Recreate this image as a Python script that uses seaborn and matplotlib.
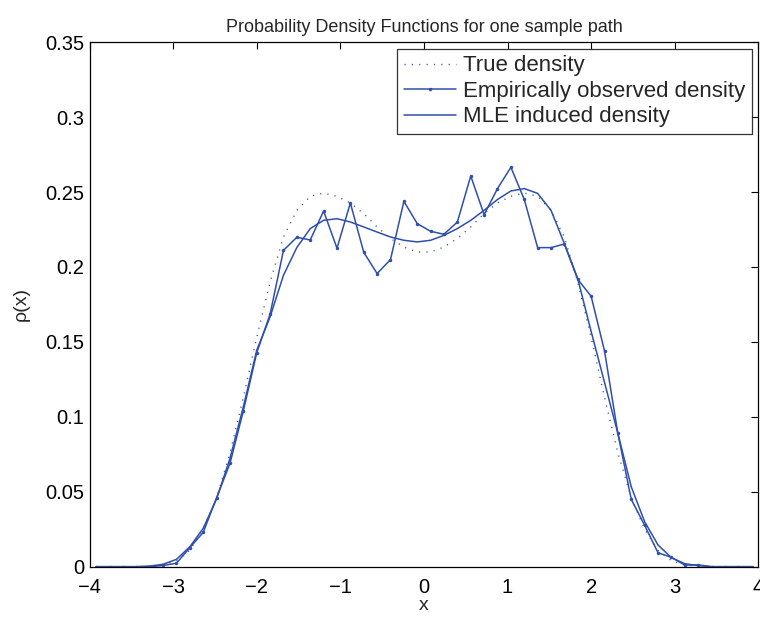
import numpy as np
import pandas as pd
import matplotlib
matplotlib.use("Agg")
import matplotlib.pyplot as plt
import seaborn as sns

# bin centers
x_vals = [-3.92, -3.76, -3.60, -3.44, -3.28, -3.12, -2.96, -2.80, -2.64, -2.48,
          -2.32, -2.16, -2.00, -1.84, -1.68, -1.52, -1.36, -1.20, -1.04, -0.88,
          -0.72, -0.56, -0.40, -0.24, -0.08, 0.08, 0.24, 0.40, 0.56, 0.72,
          0.88, 1.04, 1.20, 1.36, 1.52, 1.68, 1.84, 2.00, 2.16, 2.32,
          2.48, 2.64, 2.80, 2.96, 3.12, 3.28, 3.44, 3.60, 3.76, 3.92]

true_density = [0, 0, 0, 0, 0.0003, 0.0012, 0.004, 0.011, 0.025, 0.046,
                0.076, 0.113, 0.153, 0.190, 0.220, 0.2378, 0.2471, 0.2493, 0.2471, 0.2427,
                0.2356, 0.2267, 0.219, 0.2133, 0.2100, 0.2100, 0.2133, 0.219, 0.2267, 0.2356,
                0.2427, 0.2471, 0.2493, 0.2471, 0.2378, 0.220, 0.190, 0.153, 0.113, 0.076,
                0.046, 0.025, 0.011, 0.004, 0.0012, 0.0003, 0, 0, 0, 0]

empirical = [0, 0, 0, 0, 0, 0.0008, 0.0023, 0.0127, 0.0229, 0.046,
             0.0689, 0.104, 0.1427, 0.1685, 0.2111, 0.2198, 0.218, 0.2373, 0.2125, 0.2427,
             0.2098, 0.1956, 0.2049, 0.2438, 0.2289, 0.2238, 0.2218, 0.230, 0.2607, 0.2349,
             0.2523, 0.2665, 0.2451, 0.2129, 0.2129, 0.2153, 0.1917, 0.1805, 0.144, 0.0889,
             0.0449, 0.0276, 0.0093, 0.0062, 0.0011, 0.0012, 0, 0, 0, 0]

mle_density = [0, 0, 0, 0, 0.0004, 0.0016, 0.0049, 0.0133, 0.0256, 0.0453,
               0.0722, 0.1067, 0.1444, 0.1667, 0.1945, 0.213, 0.2256, 0.2311, 0.2322, 0.230,
               0.2267, 0.2233, 0.220, 0.2178, 0.2167, 0.2178, 0.2211, 0.2256, 0.2311, 0.2378,
               0.245, 0.2507, 0.2523, 0.2491, 0.2378, 0.2156, 0.1922, 0.157, 0.123, 0.0889,
               0.0533, 0.030, 0.0145, 0.006, 0.002, 0.0007, 0, 0, 0, 0]

labels = ["True density", "Empirically observed density", "MLE induced density"]
x_ticklabels = ["\u22124", "\u22123", "\u22122", "\u22121", "0", "1", "2", "3", "4"]
y_ticklabels = ["0", "0.05", "0.1", "0.15", "0.2", "0.25", "0.3", "0.35"]

sns.set_theme(style="white")
plt.rcParams['font.family'] = ['Liberation Sans', 'DejaVu Sans']

df = pd.DataFrame({"x": x_vals, "true": true_density, "emp": empirical, "mle": mle_density})

blue = "#2f4fae"
fig = plt.figure(figsize=(7.6, 6.2), dpi=100)
ax = fig.add_axes([0.1178, 0.086, 0.88, 0.846])

sns.lineplot(data=df, x="x", y="true", ax=ax, color=blue, linestyle=(0, (0.8, 4.5)),
             linewidth=1.0, label=labels[0])
sns.lineplot(data=df, x="x", y="emp", ax=ax, color=blue, linewidth=1.1,
             marker="o", markersize=2.5, markeredgewidth=0, label=labels[1])
sns.lineplot(data=df, x="x", y="mle", ax=ax, color=blue, linewidth=1.1,
             label=labels[2])

ax.set_xlim(-4, 4)
ax.set_ylim(0, 0.35)
ax.set_xticks(np.arange(-4, 4.01, 1))
ax.set_yticks(np.arange(0, 0.351, 0.05))
ax.set_xticklabels(x_ticklabels)
ax.set_yticklabels(y_ticklabels)
ax.tick_params(direction="in", top=True, right=True, length=5, width=0.8,
               labelsize=14.5, colors="black")
ax.tick_params(axis="x", pad=8)
ax.tick_params(axis="y", pad=4)
for s in ax.spines.values():
    s.set_color("black")
    s.set_linewidth(0.9)

ax.set_xlabel("x", fontsize=14, labelpad=0)
ax.set_ylabel("\u03c1(x)", fontsize=14, labelpad=11)
ax.set_title("Probability Density Functions for one sample path", fontsize=13, pad=7)

leg = ax.legend(loc="upper right", fontsize=16, frameon=True, fancybox=False,
                edgecolor="black", borderaxespad=0.3, handlelength=2.35,
                borderpad=0.3, labelspacing=0.2, handletextpad=0.3)
leg.get_frame().set_linewidth(0.9)

fig.savefig("out.png", dpi=100)
